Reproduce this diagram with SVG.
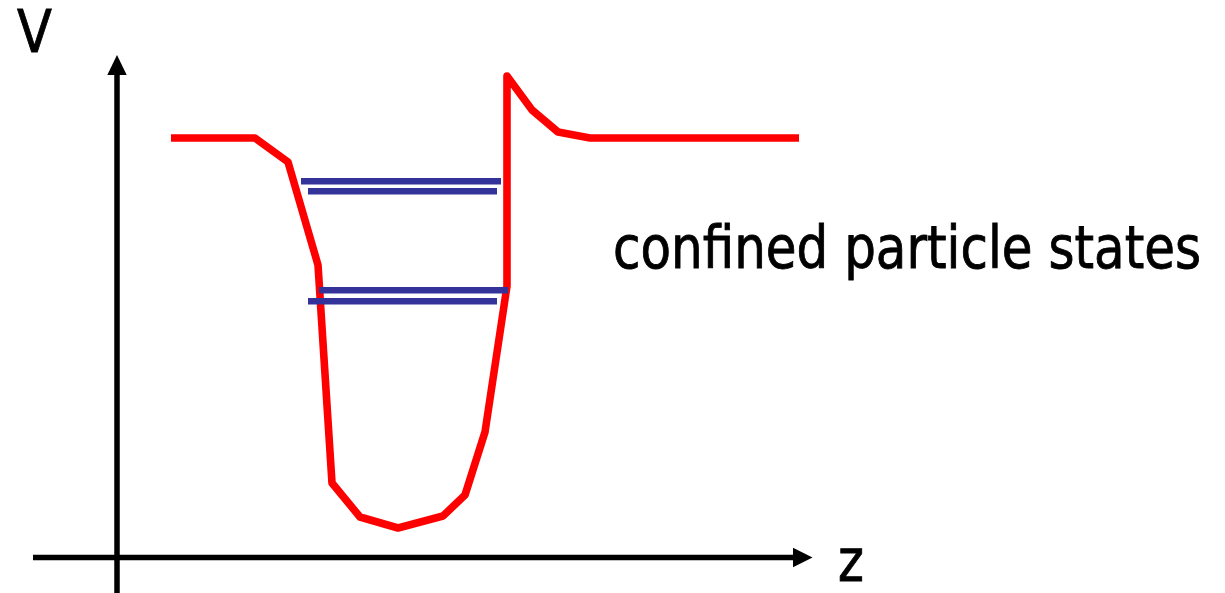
<svg xmlns="http://www.w3.org/2000/svg" width="1225" height="593" viewBox="0 0 1225 593">
<style>
.axis{stroke:#000;stroke-width:5.5;fill:none}
.head{fill:#000;stroke:none}
.pot{stroke:#ff0000;stroke-width:7.6;fill:none;stroke-linejoin:round}
.lvl{stroke:#333399;stroke-width:6.5}
.lbl{font-family:"DejaVu Sans","Liberation Sans",sans-serif;fill:#000;stroke:#000;stroke-width:0.9}
</style>
<rect width="1225" height="593" fill="#fff"/>
<g id="axes">
<line class="axis" x1="117" y1="593" x2="117" y2="74"/>
<polygon class="head" points="107.3,75 117,55 126.7,75"/>
<line class="axis" x1="33" y1="557.5" x2="794" y2="557.5"/>
<polygon class="head" points="793,547.8 812.5,557.5 793,567.2"/>
</g>
<g id="potential">
<polyline class="pot" points="171,138 255,138 288,162 318,265 332,483 360,517 398,528 443,516 465,495 485,432 507,286 507,76 532,110 558,132 590,138 799,138"/>
</g>
<g id="levels">
<line class="lvl" x1="301" y1="181.3" x2="501" y2="181.3"/>
<line class="lvl" x1="308" y1="191.3" x2="497" y2="191.3"/>
<line class="lvl" x1="319" y1="290.3" x2="508" y2="290.3"/>
<line class="lvl" x1="308" y1="301.3" x2="497" y2="301.3"/>
</g>
<g id="labels">
<text class="lbl" transform="translate(17,52) scale(0.88,1)" font-size="58">V</text>
<text class="lbl" transform="translate(838,581) scale(0.85,1)" font-size="58">z</text>
<text class="lbl" transform="translate(613,268) scale(0.847,1)" font-size="59">confined particle states</text>
</g>
</svg>
